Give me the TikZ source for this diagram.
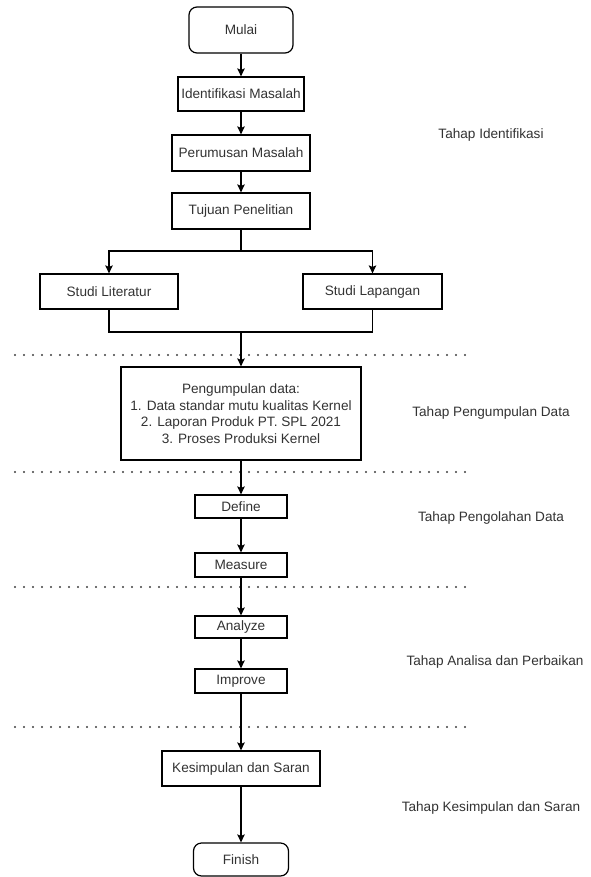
\documentclass[tikz,border=0pt]{standalone}
\usepackage{fontspec}
\setmainfont{Liberation Sans}
\usetikzlibrary{arrows.meta}
\definecolor{txt}{HTML}{333333}
\begin{document}
\begin{tikzpicture}[x=1pt,y=-1pt,
  font=\fontsize{13.6}{16.6}\selectfont,
  box/.style={draw=black, line width=1.2pt, inner sep=0pt, text=txt, align=center},
  rbox/.style={box, rounded corners=8pt},
  lbl/.style={text=txt, inner sep=0pt},
  arr/.style={draw=black, line width=1.2pt, -{Stealth[length=8pt,width=7.5pt,inset=1.5pt]}},
  ln/.style={draw=black, line width=1.2pt},
  sep/.style={draw=black!75, line width=2.2pt, line cap=round, dash pattern=on 0pt off 9pt}]
\useasboundingbox (0,0) rectangle (590,877);
\fill[white] (0,0) rectangle (590,877);
% dotted separators
\draw[sep] (15,355) -- (473,355);
\draw[sep] (15,472) -- (473,472);
\draw[sep] (15,587) -- (473,587);
\draw[sep] (15,727) -- (473,727);
% nodes
\node[rbox, minimum width=104pt, minimum height=46pt] (mulai) at (241,30) {Mulai};
\node[box, minimum width=126pt, minimum height=34pt] (idm) at (241,94) {Identifikasi Masalah};
\node[box, minimum width=138pt, minimum height=36pt] (prm) at (241,153) {Perumusan Masalah};
\node[box, minimum width=138pt, minimum height=36pt] (tuj) at (241,211) {Tujuan Penelitian};
\node[box, minimum width=138pt, minimum height=35pt] (lit) at (109,291.5) {Studi Literatur};
\node[box, minimum width=139pt, minimum height=35pt] (lap) at (372.5,291.5) {Studi Lapangan};
\node[box, minimum width=240pt, minimum height=93pt] (peng) at (241,413.5) {Pengumpulan data:\\1. Data standar mutu kualitas Kernel\\2. Laporan Produk PT. SPL 2021\\3. Proses Produksi Kernel};
\node[box, minimum width=92pt, minimum height=23pt] (def) at (241,506.5) {Define};
\node[box, minimum width=92pt, minimum height=24pt] (mea) at (241,565) {Measure};
\node[box, minimum width=92pt, minimum height=22pt] (ana) at (241,627) {Analyze};
\node[box, minimum width=92pt, minimum height=24pt] (imp) at (241,681) {Improve};
\node[box, minimum width=158pt, minimum height=35pt] (kes) at (241,768.5) {Kesimpulan dan Saran};
\node[rbox, minimum width=95pt, minimum height=33pt] (fin) at (241,859.5) {Finish};
% stage labels
\node[lbl] (l1) at (491,135) {Tahap Identifikasi};
\node[lbl] (l2) at (491,413) {Tahap Pengumpulan Data};
\node[lbl] (l3) at (491,518) {Tahap Pengolahan Data};
\node[lbl] (l4) at (495,662) {Tahap Analisa dan Perbaikan};
\node[lbl] (l5) at (491,808) {Tahap Kesimpulan dan Saran};
% connectors
\coordinate (split) at (241,251);
\coordinate (merge) at (241,332);
\draw[arr] (mulai) -- (idm);
\draw[arr] (idm) -- (prm);
\draw[arr] (prm) -- (tuj);
\draw[ln] (tuj) -- (split);
\draw[arr] (split) -| (lit);
\draw[arr] (split) -| (lap);
\draw[ln] (lit.south) |- (merge);
\draw[ln] (lap.south) |- (merge);
\draw[arr] (merge) -- (peng);
\draw[arr] (peng) -- (def);
\draw[arr] (def) -- (mea);
\draw[arr] (mea) -- (ana);
\draw[arr] (ana) -- (imp);
\draw[arr] (imp) -- (kes);
\draw[arr] (kes) -- (fin);
\end{tikzpicture}
\end{document}
